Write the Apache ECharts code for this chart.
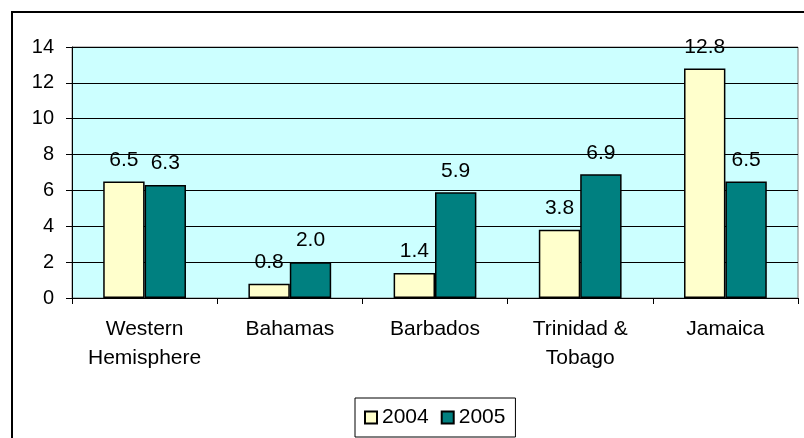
<!DOCTYPE html>
<html><head><meta charset="utf-8">
<script src="https://cdn.jsdelivr.net/npm/echarts@6/dist/echarts.min.js"></script>
<style>html,body{margin:0;padding:0;background:#fff}#c{width:804px;height:438px}</style>
</head><body><div id="c"></div>
<script>
const categories = ['Western\nHemisphere', 'Bahamas', 'Barbados', 'Trinidad &\nTobago', 'Jamaica'];
const series2004 = [6.5, 0.8, 1.4, 3.8, 12.8];
const series2005 = [6.3, 2.0, 5.9, 6.9, 6.5];
const yTicks = [0, 2, 4, 6, 8, 10, 12, 14];

const FONT = 'Arial, "Liberation Sans", sans-serif';
const chart = echarts.init(document.getElementById('c'), null, {renderer: 'canvas'});
const labelStyle = {show: true, position: 'top', distance: 11, fontFamily: FONT, fontSize: 21, color: '#000', formatter: p => p.value.toFixed(1)};
chart.setOption({
  animation: false,
  backgroundColor: '#fff',
  graphic: [{type: 'rect', shape: {x: 12, y: 12, width: 820, height: 450}, style: {fill: 'none', stroke: '#000', lineWidth: 2}, z: -1}],
  grid: {left: 72, top: 47, width: 726, height: 251, show: true, backgroundColor: '#CCFFFF', borderColor: '#808080', borderWidth: 1},
  legend: {
    bottom: 1, left: 355, itemWidth: 12, itemHeight: 12, itemGap: 12,
    padding: [9, 10, 9, 9], borderColor: '#000', borderWidth: 1,
    textStyle: {fontFamily: FONT, fontSize: 21, color: '#000'},
    data: [{name: '2004', icon: 'rect'}, {name: '2005', icon: 'rect'}]
  },
  xAxis: {
    type: 'category', data: categories,
    axisLine: {lineStyle: {color: '#000', width: 1}},
    axisTick: {show: true, length: 6, lineStyle: {color: '#000'}},
    axisLabel: {interval: 0, fontFamily: FONT, fontSize: 21, color: '#000', margin: 17, lineHeight: 29}
  },
  yAxis: {
    type: 'value', min: yTicks[0], max: yTicks[yTicks.length - 1], interval: 2,
    axisLine: {show: true, lineStyle: {color: '#000'}},
    axisTick: {show: true, length: 6, lineStyle: {color: '#000'}},
    splitLine: {show: true, lineStyle: {color: '#000', width: 1}},
    axisLabel: {fontFamily: FONT, fontSize: 20, color: '#000', margin: 18}
  },
  series: [
    {name: '2004', type: 'bar', data: series2004, barGap: '0%', barCategoryGap: '43%',
     itemStyle: {color: '#FFFFCC', borderColor: '#000', borderWidth: 1.5}, label: labelStyle},
    {name: '2005', type: 'bar', data: series2005,
     itemStyle: {color: '#008080', borderColor: '#000', borderWidth: 1.5}, label: labelStyle}
  ]
});
</script></body></html>
